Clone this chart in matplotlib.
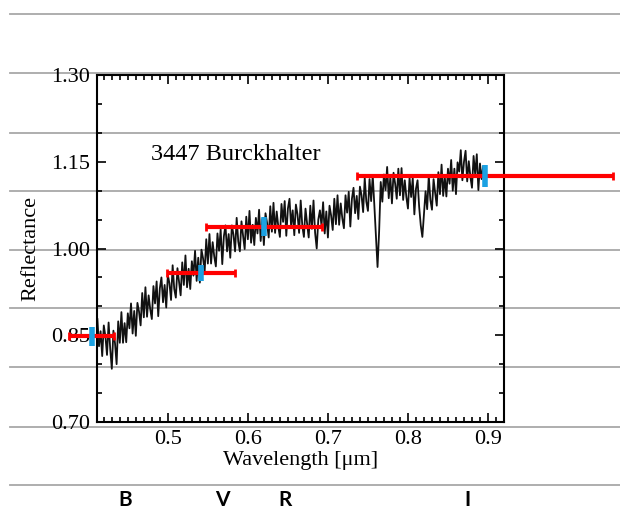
import numpy as np
import matplotlib.pyplot as plt
from matplotlib.lines import Line2D
from matplotlib.ticker import MultipleLocator, FixedLocator, FormatStrFormatter

plt.rcParams['font.family'] = ['Liberation Serif', 'DejaVu Serif']

# spectrum of 3447 Burckhalter (0.412 - 0.894 um, 0.002 step)
reflectance = [
    0.878, 0.831, 0.857, 0.814, 0.867, 0.848, 0.816, 0.872, 0.827, 0.792,
    0.858, 0.836, 0.800, 0.874, 0.837, 0.890, 0.837, 0.871, 0.838, 0.888,
    0.862, 0.905, 0.853, 0.892, 0.849, 0.906, 0.891, 0.867, 0.923, 0.881,
    0.933, 0.882, 0.919, 0.895, 0.878, 0.935, 0.905, 0.943, 0.883, 0.931,
    0.950, 0.907, 0.937, 0.898, 0.954, 0.940, 0.911, 0.971, 0.930, 0.915,
    0.966, 0.942, 0.919, 0.976, 0.937, 0.988, 0.933, 0.965, 0.930, 0.978,
    0.953, 0.996, 0.944, 0.984, 0.941, 0.998, 0.983, 0.960, 1.016, 0.974,
    1.025, 0.974, 1.011, 0.986, 0.969, 1.026, 0.996, 1.033, 0.973, 1.021,
    1.040, 0.995, 1.025, 0.984, 1.040, 1.024, 0.995, 1.053, 1.012, 0.995,
    1.047, 1.022, 0.999, 1.055, 1.016, 1.065, 1.010, 1.041, 1.006, 1.053,
    1.026, 1.067, 1.013, 1.051, 1.006, 1.061, 1.044, 1.019, 1.073, 1.029,
    1.079, 1.027, 1.064, 1.038, 1.020, 1.077, 1.046, 1.082, 1.022, 1.069,
    1.086, 1.039, 1.066, 1.023, 1.076, 1.059, 1.027, 1.083, 1.039, 1.020,
    1.069, 1.043, 1.019, 1.074, 1.034, 1.083, 1.027, 1.000, 1.050, 1.066,
    1.039, 1.080, 1.026, 1.064, 1.019, 1.074, 1.057, 1.032, 1.086, 1.042,
    1.092, 1.041, 1.078, 1.052, 1.035, 1.092, 1.062, 1.098, 1.038, 1.086,
    1.105, 1.061, 1.091, 1.051, 1.107, 1.092, 1.063, 1.122, 1.081, 1.065,
    1.120, 1.082, 1.126, 1.075, 1.020, 0.968, 1.030, 1.115, 1.081, 1.128,
    1.101, 1.141, 1.087, 1.124, 1.078, 1.131, 1.112, 1.086, 1.138, 1.092,
    1.139, 1.084, 1.118, 1.089, 1.069, 1.122, 1.089, 1.122, 1.059, 1.103,
    1.118, 1.072, 1.040, 1.020, 1.060, 1.099, 1.068, 1.126, 1.084, 1.067,
    1.120, 1.096, 1.074, 1.132, 1.094, 1.145, 1.091, 1.124, 1.090, 1.138,
    1.112, 1.153, 1.100, 1.138, 1.094, 1.149, 1.133, 1.170, 1.118, 1.150,
    1.169, 1.116, 1.151, 1.124, 1.105, 1.160, 1.128, 1.163, 1.101, 1.147,
    1.120, 1.142,
]
wavelength = np.linspace(0.412, 0.894, len(reflectance))

# broadband filter points
filters = ['B', 'V', 'R', 'I']
filter_center = [0.405, 0.542, 0.620, 0.896]
filter_halfwidth = [0.028, 0.0425, 0.0725, 0.160]
filter_refl = [0.848, 0.957, 1.038, 1.125]
filter_err = [0.016, 0.014, 0.016, 0.019]

y_ticks = [0.70, 0.85, 1.00, 1.15, 1.30]

W, H = 620, 509
fig = plt.figure(figsize=(W / 100, H / 100), dpi=100)
ax = fig.add_axes([97 / W, 87 / H, 407 / W, 347 / H])
ax.patch.set_alpha(0)

# ruled lines of the page behind the plot
for y in [14, 73, 133, 191, 250, 308, 367, 427, 485]:
    fig.add_artist(Line2D([10 / W, 1], [1 - y / H] * 2, color='#a8a8a8', lw=1.3, zorder=-1))

ax.plot(wavelength, reflectance, color='#111111', lw=1.3, zorder=2)

red = ax.errorbar(filter_center, filter_refl, xerr=filter_halfwidth, fmt='none',
                  ecolor='#ff0000', elinewidth=3, capsize=3, capthick=2, zorder=3)
blue = ax.errorbar(filter_center, filter_refl, yerr=filter_err, fmt='none',
                   ecolor='#1ba1e2', elinewidth=4, zorder=4)
for cont in (red, blue):
    for art in cont.get_children():
        art.set_clip_on(False)

ax.text(0.4795, 1.162, '3447 Burckhalter', fontsize=17.5, ha='left', va='center')

ax.set_xlim(0.4115, 0.92)
ax.set_ylim(0.70, 1.30)
ax.xaxis.set_major_locator(MultipleLocator(0.1))
ax.xaxis.set_minor_locator(MultipleLocator(0.01))
ax.yaxis.set_major_locator(FixedLocator(y_ticks))
ax.yaxis.set_minor_locator(MultipleLocator(0.05))
ax.yaxis.set_major_formatter(FormatStrFormatter('%.2f'))
ax.tick_params(which='both', direction='in', top=True, right=True, width=1.2, labelsize=16)
ax.tick_params(which='major', length=6.5)
ax.tick_params(which='minor', length=3.5)
ax.tick_params(axis='x', pad=6)
ax.tick_params(axis='y', pad=5)
for sp in ax.spines.values():
    sp.set_linewidth(1.5)

ax.set_xlabel('Wavelength [μm]', fontsize=16, labelpad=1)
ax.set_ylabel('Reflectance', fontsize=16, labelpad=8)

# filter names under the page rule
for name, xp in zip(filters, [125, 222, 285, 468]):
    fig.text(xp / W, 1 - 500 / H, name, fontsize=15, fontweight='bold',
             family='Lato', ha='center', va='center')

fig.savefig('out.png', dpi=100)
